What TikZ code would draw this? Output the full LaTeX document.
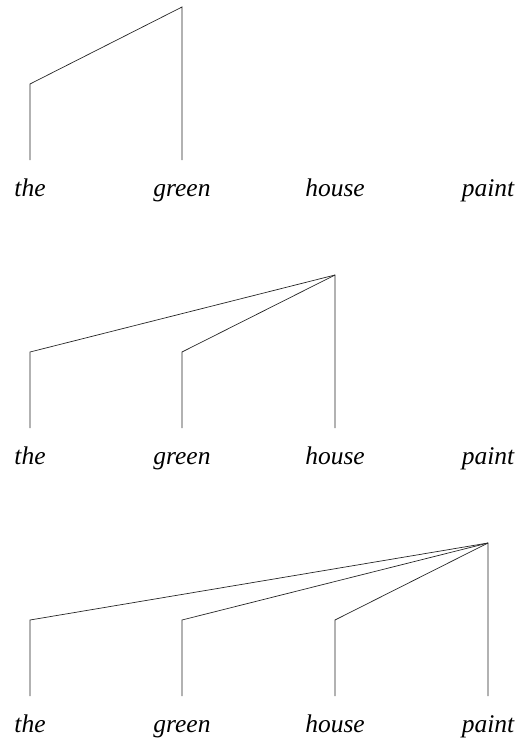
\documentclass[tikz,border=0pt]{standalone}
\usepackage{fontspec}
\setmainfont{Liberation Serif}
\begin{document}
\begin{tikzpicture}[x=1pt, y=-1pt,
  word/.style={font=\fontsize{25.5}{30}\selectfont\itshape, anchor=base, inner sep=0pt},
  arc/.style={line width=0.7pt, black!85}]
\useasboundingbox (0,0) rectangle (519,740);

% columns: the, green, house, paint
\def\xa{30}
\def\xb{182}
\def\xc{335}
\def\xd{488}

% ---- panel 1: the <- green ----
\node[word] (the1)   at (\xa,196) {the};
\node[word] (green1) at (\xb,196) {green};
\node[word] (house1) at (\xc,196) {house};
\node[word] (paint1) at (\xd,196) {paint};
\coordinate (the1b) at (\xa,160);
\coordinate (the1k) at (\xa,84);
\coordinate (green1b) at (\xb,160);
\coordinate (green1t) at (\xb,7);
\draw[arc] (the1b) -- (the1k) -- (green1t) -- (green1b);

% ---- panel 2: the, green <- house ----
\node[word] (the2)   at (\xa,464) {the};
\node[word] (green2) at (\xb,464) {green};
\node[word] (house2) at (\xc,464) {house};
\node[word] (paint2) at (\xd,464) {paint};
\coordinate (the2b) at (\xa,428);
\coordinate (the2k) at (\xa,352);
\coordinate (green2b) at (\xb,428);
\coordinate (green2k) at (\xb,352);
\coordinate (house2b) at (\xc,428);
\coordinate (house2t) at (\xc,275);
\draw[arc] (the2b) -- (the2k) -- (house2t) -- (house2b);
\draw[arc] (green2b) -- (green2k) -- (house2t);

% ---- panel 3: the, green, house <- paint ----
\node[word] (the3)   at (\xa,732) {the};
\node[word] (green3) at (\xb,732) {green};
\node[word] (house3) at (\xc,732) {house};
\node[word] (paint3) at (\xd,732) {paint};
\coordinate (the3b) at (\xa,696);
\coordinate (the3k) at (\xa,620);
\coordinate (green3b) at (\xb,696);
\coordinate (green3k) at (\xb,620);
\coordinate (house3b) at (\xc,696);
\coordinate (house3k) at (\xc,620);
\coordinate (paint3b) at (\xd,696);
\coordinate (paint3t) at (\xd,543);
\draw[arc] (the3b) -- (the3k) -- (paint3t) -- (paint3b);
\draw[arc] (green3b) -- (green3k) -- (paint3t);
\draw[arc] (house3b) -- (house3k) -- (paint3t);

\end{tikzpicture}
\end{document}
